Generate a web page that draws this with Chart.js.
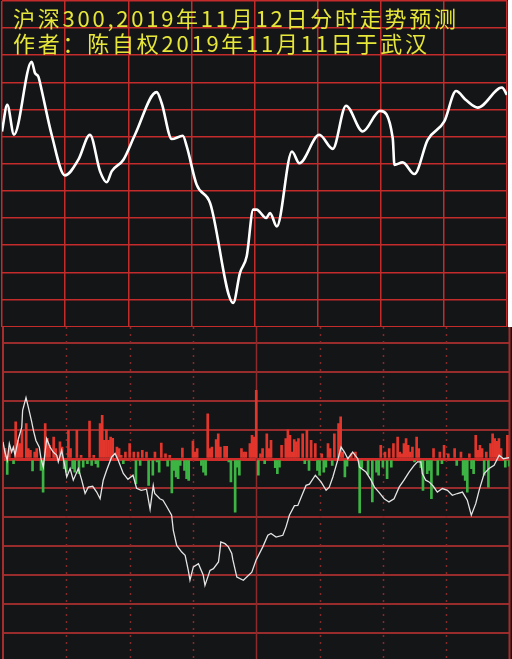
<!DOCTYPE html>
<html lang="zh">
<head>
<meta charset="utf-8">
<title>沪深300分时走势预测</title>
<script src="https://cdn.jsdelivr.net/npm/chart.js@4.4.1/dist/chart.umd.min.js"></script>
<style>
  html, body { margin: 0; padding: 0; background: #ffffff; }
  #wrap { position: relative; width: 512px; height: 659px; overflow: hidden; }
  #trendChart { position: absolute; left: 0; top: 0; }
  #flowChart { position: absolute; left: 0; top: 327px; }
</style>
</head>
<body>
<div id="wrap">
  <canvas id="trendChart" width="508" height="327"></canvas>
  <canvas id="flowChart" width="512" height="332"></canvas>
</div>
<script>
const titleLines = ['沪深300,2019年11月12日分时走势预测', '作者：陈自权2019年11月11日于武汉'];

// forecast curve (upper panel), minutes since open
const trendMinutes = [0, 2.5, 5.7, 14.1, 15.7, 17.3, 18.1, 23.6, 29.9, 36.3,
  41.8, 46.6, 49.8, 52.1, 57.7, 63.2, 73.5, 75.9, 80.7, 85.9,
  87.8, 92.5, 98.9, 109.9, 113.1, 116.3, 119.4, 121, 125.5, 127.4,
  130.6, 137.8, 141.3, 150.8, 157.2, 163.5, 171.4, 179.7, 185.7, 186.5,
  190.4, 196, 202.3, 210.2, 215.8, 220.5, 226.1, 237.6, 240];
const trendValues = [3941.9, 3951.7, 3940.7, 3967.6, 3963.4, 3962.1, 3959.7, 3940.7, 3925.7, 3931.5,
  3940.7, 3927.2, 3923.2, 3927.2, 3931.5, 3940.7, 3956.4, 3952.3, 3939.1, 3940.3,
  3936.4, 3922.3, 3915.5, 3878.7, 3889.8, 3895.9, 3913.1, 3913.1, 3910.0, 3911.8,
  3906.9, 3934.5, 3930.2, 3940.7, 3935.5, 3951.4, 3941.9, 3949.5, 3939.4, 3929.6,
  3930.5, 3926.2, 3938.8, 3945.6, 3956.8, 3953.5, 3950.7, 3958.1, 3955.4];

// lower panel: white line
const flowMinutes = [0, 0.9, 2, 3, 4.1, 4.9, 5.7, 7.3, 8.9, 9.3,
  10.9, 12, 13.6, 14.4, 15.6, 17.2, 18, 19.1, 20.7, 22.3,
  23.8, 25.5, 26.2, 27.8, 29.4, 30.2, 31.8, 33.3, 35.7, 37.3,
  38.9, 40.4, 42.5, 44.4, 46, 47.5, 49.1, 51.5, 53.1, 54.6,
  57, 59.2, 61.6, 63.3, 65.5, 68, 69.7, 71.2, 71.9, 74.3,
  75.8, 77.5, 79.9, 80.7, 82.3, 84.7, 86.3, 87.8, 88.6, 90.2,
  92.6, 94.9, 95.7, 98.1, 99.7, 102.1, 102.8, 103.2, 105.2, 106.8,
  108.4, 108.9, 110.8, 113.9, 117.9, 119.9, 123.1, 125.5, 127, 129.4,
  132.6, 134.1, 135.7, 138.1, 139.7, 142, 143.6, 145.2, 148, 150.7,
  153.1, 154.6, 156.3, 158.6, 160.2, 161.8, 163.4, 165.7, 168.1, 168.9,
  172, 174.4, 176, 178.1, 180.6, 182.9, 185.3, 187.7, 190, 192.4,
  194.8, 196.4, 198, 198.7, 200.3, 201.9, 203.9, 205.8, 208.2, 210.6,
  212.9, 215.3, 217.7, 220, 221.9, 224, 225.6, 228, 230.3, 232.7,
  235.1, 237.1, 239.8];
const flowValues = [0.59, 0.24, -0.04, 0.53, 0.24, 0.41, 0.13, 0.70, 1.10, 1.68,
  2.12, 1.79, 1.28, 0.99, 0.64, 0.41, 0.01, -0.28, 0.70, 0.41,
  0.24, 0.13, -0.10, 0.30, -0.28, -0.62, -0.33, -0.73, -0.33, -0.73,
  -1.19, -0.97, -0.94, -1.14, -1.37, -0.73, -0.39, 0.07, 0.19, -0.04,
  -0.50, -0.70, -0.56, -1.01, -1.08, -1.04, -1.73, -0.91, -1.19, -1.37,
  -1.42, -1.63, -1.94, -2.46, -2.98, -3.21, -3.32, -3.84, -4.18, -3.72,
  -3.61, -4.01, -4.36, -3.84, -3.78, -3.55, -3.15, -2.86, -2.92, -3.03,
  -3.26, -3.47, -4.07, -4.18, -3.90, -3.49, -3.03, -2.63, -2.57, -2.69,
  -2.63, -2.34, -1.94, -1.61, -1.60, -1.19, -0.91, -0.87, -0.56, -0.79,
  -1.08, -0.97, -0.62, -0.04, 0.41, 0.24, 0.01, 0.24, 0.01, -0.28,
  -0.45, -0.73, -0.97, -1.14, -1.37, -1.48, -1.37, -0.97, -0.73, -0.45,
  -0.22, -0.10, -0.10, -0.50, -0.73, -0.79, -0.94, -1.14, -1.02, -1.08,
  -1.25, -1.19, -1.14, -1.42, -1.94, -1.54, -1.08, -0.50, -0.33, -0.22,
  0.13, 0.01, 0.05];

// red bars
const upMinutes = [1, 3, 6, 7, 8, 9, 11, 12, 13, 15, 16, 20, 21, 22, 24, 25, 27, 28, 31, 32,
  35, 37, 41, 43, 46, 47, 48, 49, 50, 51, 52, 54, 55, 56, 58, 60, 62, 64, 66, 68,
  72, 75, 77, 79, 85, 90, 91, 92, 97, 98, 99, 101, 102, 103, 105, 106, 113, 114, 115, 117,
  118, 119, 120, 122, 123, 125, 126, 127, 132, 134, 135, 136, 137, 138, 139, 140, 142, 144, 146, 148,
  151, 154, 155, 157, 159, 160, 161, 165, 167, 179, 181, 183, 185, 187, 188, 189, 190, 191, 192, 193,
  194, 196, 197, 204, 207, 209, 211, 214, 217, 221, 224, 225, 226, 227, 229, 231, 232, 233, 234, 235,
  236, 239];
const upValues = [0.37, 0.37, 1.28, 0.64, 0.53, 0.99, 1.22, 0.36, 0.30, 0.24, 0.36, 1.22, 0.71, 0.47, 0.76, 0.36, 0.59, 0.41, 0.99, 0.36,
  0.99, 0.13, 1.31, 0.13, 1.22, 1.51, 0.64, 1.01, 0.64, 0.76, 0.71, 0.41, 0.36, 0.13, 0.24, 0.53, 0.24, 0.24, 0.30, 0.24,
  0.24, 0.55, 0.18, 0.13, 0.38, 0.62, 0.24, 0.36, 1.56, 0.36, 0.41, 0.67, 0.87, 0.41, 0.44, 0.44, 0.36, 0.24, 0.24, 0.53,
  0.82, 0.76, 2.37, 0.18, 0.36, 0.87, 0.36, 0.64, 0.47, 0.70, 1.01, 0.82, 0.24, 0.67, 0.59, 0.70, 0.87, 0.99, 0.64, 0.53,
  0.18, 0.53, 0.36, 0.87, 1.22, 1.45, 0.24, 0.18, 0.24, 0.47, 0.24, 0.36, 0.53, 0.76, 0.24, 0.18, 0.53, 0.70, 0.47, 0.24,
  0.41, 0.76, 0.36, 0.36, 0.24, 0.47, 0.18, 0.36, 0.24, 0.18, 0.82, 0.30, 0.47, 0.36, 0.24, 0.53, 0.87, 0.70, 0.61, 0.70,
  0.36, 0.82];

// green bars
const downMinutes = [2, 5, 14, 18, 19, 29, 30, 33, 34, 36, 38, 40, 42, 44, 45, 57, 63, 65, 69, 71,
  73, 74, 78, 80, 81, 82, 83, 84, 86, 87, 88, 94, 95, 96, 107, 108, 110, 111, 112, 121,
  124, 129, 130, 131, 143, 145, 149, 150, 152, 153, 156, 162, 163, 169, 170, 173, 175, 177, 178, 180,
  182, 184, 195, 198, 199, 201, 202, 203, 206, 208, 215, 218, 219, 220, 222, 223, 228, 230, 238, 240];
const downValues = [-0.53, -0.16, -0.41, -0.39, -1.14, -0.33, -0.45, -0.33, -0.45, -0.51, -0.28, -0.16, -0.22, -0.16, -0.28, -0.16, -0.85, -0.22, -0.91, -0.56,
  -0.10, -0.45, -0.25, -1.17, -0.39, -0.62, -0.68, -0.22, -0.39, -0.68, -0.74, -0.22, -0.45, -0.56, -0.10, -0.79, -1.83, -0.28, -0.56, -0.56,
  -0.16, -0.30, -0.51, -0.28, -0.16, -0.39, -0.39, -0.56, -0.45, -0.28, -0.22, -0.62, -0.25, -1.86, -0.30, -0.53, -1.48, -0.45, -0.56, -0.28,
  -0.68, -0.28, -0.10, -0.30, -1.08, -0.51, -0.39, -1.37, -0.56, -0.16, -0.22, -0.56, -0.74, -1.14, -0.33, -0.51, -0.56, -0.97, -0.28, -0.25];

// half-hour marks, 120 is the midday break
const sessionTicks = [30, 60, 90, 120, 150, 180, 210];

const panelColor = '#141517';
const gridRed = '#c42b2b';
const dimRed = '#982b2b';

const toPoints = (xs, ys) => xs.map((x, i) => ({ x, y: ys[i] }));

const panelBackground = {
  id: 'panelBackground',
  beforeDraw(chart) {
    const { ctx, width, height } = chart;
    ctx.save();
    ctx.fillStyle = panelColor;
    ctx.fillRect(0, 0, width, height);
    ctx.restore();
  }
};

const titleText = {
  id: 'titleText',
  afterDraw(chart) {
    const { ctx } = chart;
    ctx.save();
    ctx.font = '22px "Noto Sans CJK SC"';
    ctx.letterSpacing = '2.75px';
    ctx.fillStyle = '#e6e63a';
    ctx.textBaseline = 'middle';
    titleLines.forEach((line, i) => ctx.fillText(line, 13, 19 + i * 25));
    ctx.restore();
  }
};

const sessionLines = {
  id: 'sessionLines',
  beforeDatasetsDraw(chart) {
    const { ctx, height, chartArea, scales: { x } } = chart;
    ctx.save();
    ctx.lineWidth = 1.5;
    sessionTicks.forEach(minute => {
      const px = Math.round(x.getPixelForValue(minute)) + 0.5;
      ctx.strokeStyle = minute === 120 ? '#8e2a2a' : '#86292a';
      ctx.setLineDash(minute === 120 ? [] : [2, 5]);
      ctx.beginPath();
      ctx.moveTo(px, 0);
      ctx.lineTo(px, height);
      ctx.stroke();
    });
    ctx.setLineDash([]);
    ctx.strokeStyle = '#a52d2d';
    ctx.lineWidth = 2;
    [chartArea.left, chartArea.right].forEach(px => {
      ctx.beginPath();
      ctx.moveTo(px, 0);
      ctx.lineTo(px, height);
      ctx.stroke();
    });
    ctx.restore();
  }
};

new Chart(document.getElementById('trendChart'), {
  type: 'line',
  data: {
    datasets: [{
      data: toPoints(trendMinutes, trendValues),
      borderColor: '#ffffff',
      borderWidth: 2.6,
      pointRadius: 0,
      cubicInterpolationMode: 'monotone',
      fill: false
    }]
  },
  options: {
    responsive: false,
    animation: false,
    devicePixelRatio: 1,
    events: [],
    layout: { autoPadding: false, padding: { left: 2, right: 1, top: 1, bottom: 0.5 } },
    plugins: { legend: { display: false }, tooltip: { enabled: false } },
    scales: {
      x: {
        type: 'linear', min: 0, max: 240,
        ticks: { display: false, stepSize: 30 },
        grid: { color: gridRed, lineWidth: 1.5, drawTicks: false },
        border: { display: false }
      },
      y: {
        min: 3870, max: 3990,
        ticks: { display: false, stepSize: 10 },
        grid: { color: gridRed, lineWidth: 1.5, drawTicks: false },
        border: { display: false }
      }
    }
  },
  plugins: [panelBackground, titleText]
});

new Chart(document.getElementById('flowChart'), {
  type: 'bar',
  data: {
    datasets: [
      {
        type: 'line',
        data: toPoints(flowMinutes, flowValues),
        borderColor: '#e4e4e4',
        borderWidth: 1.3,
        pointRadius: 0,
        tension: 0,
        order: 0
      },
      {
        data: toPoints(upMinutes, upValues),
        backgroundColor: '#e2352c',
        barThickness: 2,
        order: 1
      },
      {
        data: toPoints(downMinutes, downValues),
        backgroundColor: '#3db544',
        barThickness: 2,
        order: 1
      }
    ]
  },
  options: {
    responsive: false,
    animation: false,
    devicePixelRatio: 1,
    events: [],
    layout: { autoPadding: false, padding: { left: 3, right: 2.5, top: 16, bottom: 26 } },
    plugins: { legend: { display: false }, tooltip: { enabled: false } },
    datasets: { bar: { grouped: false } },
    scales: {
      x: {
        type: 'linear', min: 0, max: 240, offset: false,
        display: false
      },
      y: {
        min: -6, max: 4,
        ticks: { display: false, stepSize: 1 },
        grid: {
          color: ctx => ctx.tick.value === 0 ? '#d22c2a' : dimRed,
          lineWidth: ctx => ctx.tick.value === 0 ? 3 : 2,
          drawTicks: false
        },
        border: { display: false }
      }
    }
  },
  plugins: [panelBackground, sessionLines]
});
</script>
</body>
</html>
